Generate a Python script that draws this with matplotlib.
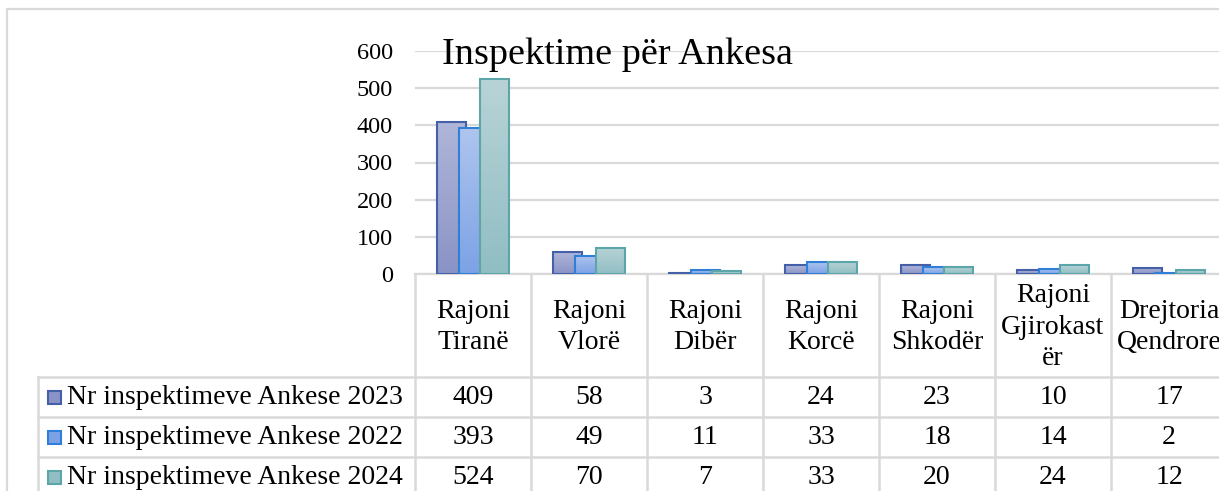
import numpy as np
import matplotlib
matplotlib.use("Agg")
import matplotlib.pyplot as plt
from matplotlib.colors import LinearSegmentedColormap

plt.rcParams["font.family"] = ["Liberation Serif", "DejaVu Serif"]

categories = ["Rajoni\nTiranë", "Rajoni\nVlorë", "Rajoni\nDibër", "Rajoni\nKorcë",
              "Rajoni\nShkodër", "Rajoni\nGjirokast\nër", "Drejtoria\nQendrore"]
series_names = ["Nr inspektimeve Ankese 2023",
                "Nr inspektimeve Ankese 2022",
                "Nr inspektimeve Ankese 2024"]
v2023 = [409, 58, 3, 24, 23, 10, 17]
v2022 = [393, 49, 11, 33, 18, 14, 2]
v2024 = [524, 70, 7, 33, 20, 24, 12]
yticks = [0, 100, 200, 300, 400, 500, 600]
title = "Inspektime për Ankesa"

W, H = 1219, 491
GRID = "#D9D9D9"
# (top colour, bottom colour, edge colour)
styles = [("#B0B6D8", "#8A93C6", "#4360A8"),
          ("#AFC5EE", "#7CA2E6", "#2F7FD9"),
          ("#B8D3D7", "#90BEC3", "#5CA5A9")]

fig = plt.figure(figsize=(W / 100, H / 100), dpi=100)

# ---- overlay axes in pixel coordinates for frame & data table ----
at = fig.add_axes([0, 0, 1, 1])
at.set_xlim(0, W); at.set_ylim(H, 0); at.axis("off")

# ---- chart axes ----
x_left, x_right, y_top, y_base = 415, 1227, 51, 274
ax = fig.add_axes([x_left / W, (H - y_base) / H, (x_right - x_left) / W, (y_base - y_top) / H])
ax.set_yticks(yticks)
ax.set_yticklabels([str(t) for t in yticks], fontsize=17.5)
ax.tick_params(axis="y", length=0, pad=16)
ax.set_xticks([])
for s in ["left", "right", "top"]:
    ax.spines[s].set_visible(False)
ax.spines["bottom"].set_color(GRID); ax.spines["bottom"].set_linewidth(1.6)
ax.yaxis.grid(True, color=GRID, lw=1.6)
ax.set_axisbelow(True)
ax.patch.set_alpha(0)

x = np.arange(len(categories))
bw, off = 0.25, 0.185
grad = np.linspace(1, 0, 256).reshape(-1, 1)
for i, vals in enumerate([v2023, v2022, v2024]):
    top_c, bot_c, edge_c = styles[i]
    cmap = LinearSegmentedColormap.from_list("g%d" % i, [bot_c, top_c])
    bars = ax.bar(x + (i - 1) * off, vals, bw, facecolor="none", edgecolor=edge_c,
                  lw=1.5, zorder=3 + i)
    for b in bars:
        bx, bwid, bh = b.get_x(), b.get_width(), b.get_height()
        im = ax.imshow(grad, cmap=cmap, aspect="auto", extent=(bx, bx + bwid, 0, max(bh, 0.01)),
                       zorder=3 + i - 0.01, origin="upper")
        im.set_clip_path(b)
ax.set_xlim(-0.5, len(categories) - 0.5)
ax.set_ylim(0, 600)

fig.text(617 / W, 1 - 55 / H, title, fontsize=27.5, ha="center", va="center")

# ---- outer frame ----
at.plot([7, 7, W], [H, 9, 9], color=GRID, lw=1.6)

# ---- data table ----
col_w = (x_right - x_left) / len(categories)
row_top = [377, 417, 457]
row_h = 40
lw = 1.8
for r in row_top:
    at.plot([38, W], [r, r], color=GRID, lw=lw)
at.plot([38, 38], [377, H], color=GRID, lw=lw)
for k in range(len(categories) + 1):
    xe = x_left + k * col_w
    at.plot([xe, xe], [y_base, H], color=GRID, lw=lw)

for k, cat in enumerate(categories):
    xc = x_left + (k + 0.5) * col_w
    at.text(xc, 327, cat, fontsize=20, ha="center", va="center", linespacing=1.33)

for i, (name, vals) in enumerate(zip(series_names, [v2023, v2022, v2024])):
    yc = row_top[i] + row_h / 2
    top_c, bot_c, edge_c = styles[i]
    at.add_patch(plt.Rectangle((48, yc - 6.5), 13, 13, facecolor=bot_c, edgecolor=edge_c, lw=1.5))
    at.text(67, yc + 1, name, fontsize=20, ha="left", va="center")
    for k, v in enumerate(vals):
        xc = x_left + (k + 0.5) * col_w
        at.text(xc, yc + 1, str(v), fontsize=20, ha="center", va="center")

fig.savefig("out.png", dpi=100)
